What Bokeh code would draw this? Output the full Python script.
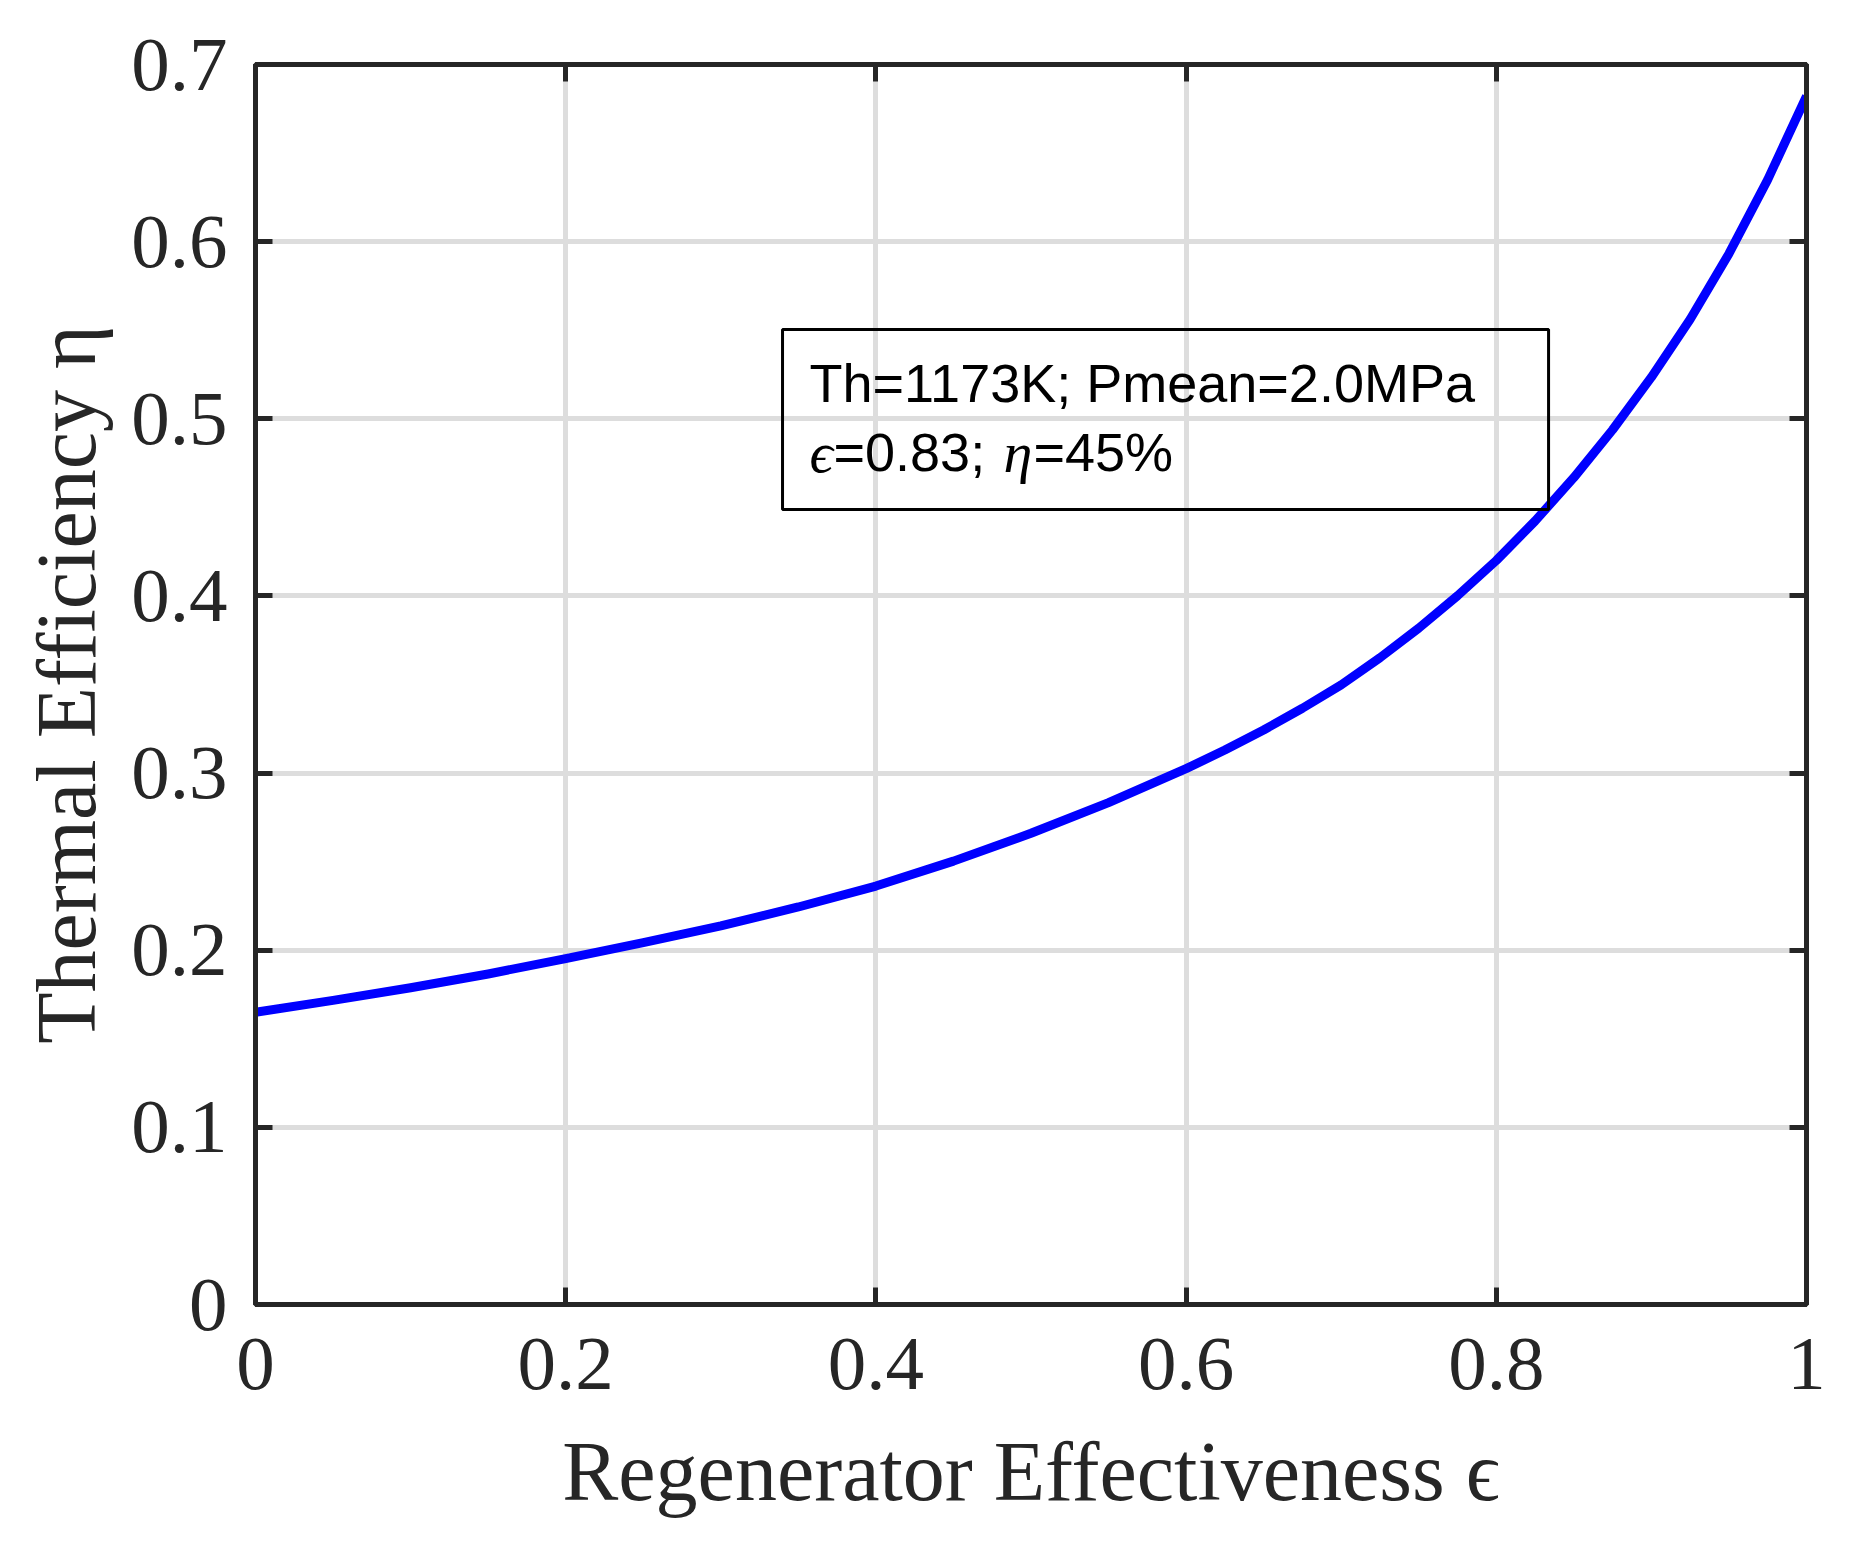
from bokeh.plotting import figure
from bokeh.models import LinearAxis, FixedTicker, BoxAnnotation, Label, Range1d
from bokeh.embed import file_html
from bokeh.resources import INLINE

# ---- data ----
eff = [0.0, 0.05, 0.1, 0.15, 0.2, 0.25, 0.3, 0.35, 0.4, 0.45, 0.5, 0.55,
       0.6, 0.625, 0.65, 0.675, 0.7, 0.725, 0.75, 0.775, 0.8, 0.825, 0.85,
       0.875, 0.9, 0.925, 0.95, 0.975, 1.0]
eta = [0.1650, 0.1717, 0.1788, 0.1866, 0.1953, 0.2043, 0.2137, 0.2244, 0.2362,
       0.2503, 0.2660, 0.2833, 0.3025, 0.3130, 0.3243, 0.3366, 0.3498, 0.3651,
       0.3818, 0.4001, 0.4200, 0.4423, 0.4668, 0.4938, 0.5235, 0.5562, 0.5932,
       0.6350, 0.6822]

x_ticks = [0, 0.2, 0.4, 0.6, 0.8, 1.0]
x_tick_labels = ["0", "0.2", "0.4", "0.6", "0.8", "1"]
y_ticks = [0, 0.1, 0.2, 0.3, 0.4, 0.5, 0.6, 0.7]
y_tick_labels = ["0", "0.1", "0.2", "0.3", "0.4", "0.5", "0.6", "0.7"]

x_label = "Regenerator Effectiveness \u03f5"
y_label = "Thermal Efficiency \u03b7"

box_line1 = "Th=1173K; Pmean=2.0MPa"
box_eps = "\u03f5"
box_eps_val = "=0.83; "
box_eta = "\u03b7"
box_eta_val = "=45%"
point_eff = 0.8337   # box corner marks the design point
point_eta = 0.4488
box_left, box_top = 0.3398, 0.5504

DARK = "#262626"
GRID = "#dddddd"

p = figure(width=1841, height=1537, x_range=Range1d(0, 1), y_range=Range1d(0, 0.7),
           output_backend="svg", toolbar_location=None,
           min_border_left=255, min_border_right=35, min_border_top=64, min_border_bottom=233)
p.background_fill_color = "white"
p.border_fill_color = "white"
p.outline_line_color = DARK
p.outline_line_width = 5

p.line(eff, eta, line_color="#0000ff", line_width=9, line_join="round")

bottom_ax = p.below[0]
left_ax = p.left[0]
bottom_ax.ticker = FixedTicker(ticks=x_ticks)
left_ax.ticker = FixedTicker(ticks=y_ticks)
bottom_ax.major_label_overrides = {t: l for t, l in zip(x_ticks, x_tick_labels)}
left_ax.major_label_overrides = {t: l for t, l in zip(y_ticks, y_tick_labels)}
bottom_ax.axis_label = x_label
left_ax.axis_label = y_label

top_ax = LinearAxis(ticker=FixedTicker(ticks=x_ticks), major_label_text_alpha=0,
                    major_label_text_font_size="1px")
right_ax = LinearAxis(ticker=FixedTicker(ticks=y_ticks), major_label_text_alpha=0,
                      major_label_text_font_size="1px")
p.add_layout(top_ax, "above")
p.add_layout(right_ax, "right")

for ax in [bottom_ax, left_ax, top_ax, right_ax]:
    ax.axis_line_color = DARK
    ax.axis_line_width = 5
    ax.major_tick_in = 17
    ax.major_tick_out = 0
    ax.major_tick_line_color = DARK
    ax.major_tick_line_width = 5
    ax.minor_tick_line_color = None

for ax in [bottom_ax, left_ax]:
    ax.major_label_text_font = "Liberation Serif"
    ax.major_label_text_font_size = "77px"
    ax.major_label_text_color = DARK
    ax.axis_label_text_font = "Liberation Serif"
    ax.axis_label_text_font_size = "84px"
    ax.axis_label_text_font_style = "normal"
    ax.axis_label_text_color = DARK
bottom_ax.major_label_standoff = 34
left_ax.major_label_standoff = 28
bottom_ax.axis_label_standoff = 33
left_ax.axis_label_standoff = 15

p.xgrid.ticker = FixedTicker(ticks=x_ticks)
p.ygrid.ticker = FixedTicker(ticks=y_ticks)
for g in [p.xgrid[0], p.ygrid[0]]:
    g.grid_line_color = GRID
    g.grid_line_width = 5

# annotation box (bottom-right corner at the design point)
p.add_layout(BoxAnnotation(left=box_left, right=point_eff, bottom=point_eta, top=box_top,
                           fill_alpha=0, line_color="black", line_alpha=1.0, line_width=3))

tx = box_left + 0.0174
y1, y2 = 0.5200, 0.4811
common = dict(text_color="black", text_baseline="alphabetic")
p.add_layout(Label(x=tx, y=y1, text=box_line1, text_font="Liberation Sans",
                   text_font_size="54px", **common))
p.add_layout(Label(x=tx, y=y2, text=box_eps, text_font="Liberation Serif",
                   text_font_style="italic", text_font_size="58px", **common))
p.add_layout(Label(x=tx, y=y2, x_offset=24, text=box_eps_val, text_font="Liberation Sans",
                   text_font_size="54px", **common))
p.add_layout(Label(x=tx, y=y2, x_offset=194, text=box_eta, text_font="Liberation Serif",
                   text_font_style="italic", text_font_size="58px", **common))
p.add_layout(Label(x=tx, y=y2, x_offset=224, text=box_eta_val, text_font="Liberation Sans",
                   text_font_size="54px", **common))

open("out.html", "w").write(file_html(p, INLINE))
